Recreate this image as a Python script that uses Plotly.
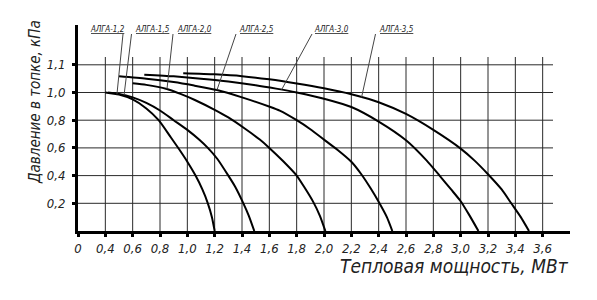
import plotly.graph_objects as go
import numpy as np

x_ticks = [0, 0.4, 0.6, 0.8, 1.0, 1.2, 1.4, 1.6, 1.8, 2.0, 2.2, 2.4, 2.6, 2.8, 3.0, 3.2, 3.4, 3.6]
x_tick_labels = ["0", "0,4", "0,6", "0,8", "1,0", "1,2", "1,4", "1,6", "1,8", "2,0",
                 "2,2", "2,4", "2,6", "2,8", "3,0", "3,2", "3,4", "3,6"]
y_ticks = [0.2, 0.4, 0.6, 0.8, 1.0, 1.1]
y_tick_labels = ["0,2", "0,4", "0,6", "0,8", "1,0", "1,1"]

names = ["АЛГА-1,2", "АЛГА-1,5", "АЛГА-2,0", "АЛГА-2,5", "АЛГА-3,0", "АЛГА-3,5"]

alga12_x = [0.4, 0.5, 0.6, 0.7, 0.79, 0.88, 0.94, 1.0, 1.06, 1.11, 1.15, 1.18, 1.2]
alga12_y = [1.0, 0.985, 0.95, 0.885, 0.80, 0.675, 0.59, 0.50, 0.40, 0.30, 0.20, 0.10, 0.0]

alga15_x = [0.42, 0.5, 0.6, 0.7, 0.8, 0.9, 1.0, 1.09, 1.15, 1.22, 1.30, 1.35, 1.41, 1.45, 1.49]
alga15_y = [1.0, 0.99, 0.965, 0.925, 0.87, 0.80, 0.73, 0.657, 0.60, 0.52, 0.40, 0.32, 0.20, 0.11, 0.0]

alga20_x = [0.6, 0.7, 0.85, 0.95, 1.055, 1.2, 1.3, 1.42, 1.53, 1.6, 1.7, 1.8, 1.86, 1.92, 1.97, 2.01]
alga20_y = [1.033, 1.0275, 1.0125, 0.99, 0.946, 0.875, 0.82, 0.74, 0.66, 0.60, 0.505, 0.40, 0.31, 0.212, 0.11, 0.0]

alga25_x = [0.5, 0.7, 0.9, 1.05, 1.217, 1.4, 1.603, 1.676, 1.8, 1.9, 2.0, 2.1, 2.2, 2.273, 2.34, 2.406, 2.46, 2.5]
alga25_y = [1.0585, 1.05, 1.0375, 1.025, 1.009, 0.965, 0.897, 0.869, 0.80, 0.735, 0.66, 0.585, 0.50, 0.41, 0.31, 0.20, 0.10, 0.0]

alga30_x = [0.685, 0.9, 1.1, 1.3, 1.5, 1.65, 1.8, 2.0, 2.2, 2.4, 2.6, 2.75, 2.85, 2.93, 3.0, 3.06, 3.13]
alga30_y = [1.0645, 1.0585, 1.05, 1.04, 1.0265, 1.014, 1.0, 0.955, 0.895, 0.79, 0.655, 0.51, 0.395, 0.30, 0.215, 0.12, 0.0]

alga35_x = [0.97, 1.2, 1.4, 1.6, 1.8, 2.0, 2.2, 2.4, 2.6, 2.8, 3.0, 3.1, 3.2, 3.3, 3.37, 3.44, 3.5]
alga35_y = [1.0695, 1.0655, 1.059, 1.0475, 1.0325, 1.015, 0.987, 0.93, 0.845, 0.73, 0.595, 0.51, 0.41, 0.30, 0.20, 0.10, 0.0]

series_x = [alga12_x, alga15_x, alga20_x, alga25_x, alga30_x, alga35_x]
series_y = [alga12_y, alga15_y, alga20_y, alga25_y, alga30_y, alga35_y]

# where the leader of each label touches its curve (heat output, MW)
leader_at = [0.485, 0.537, 0.851, 1.217, 1.69, 2.275]


# ---------------- broken-axis mapping of the drawing ----------------
def xd(v):
    v = np.asarray(v, dtype=float)
    return np.where(v == 0, 0.0, v - 0.2)


def yd(v):
    v = np.asarray(v, dtype=float)
    return np.where(v <= 1.0, v, 1.0 + 2.0 * (v - 1.0))


W, H = 597, 300
L, R, T, B = 78, 27, 25, 69
XR = [0, 3.6]
YR = [0, (H - T - B) / 138.5]


def px2x(px):
    return XR[0] + (px - L) / (W - L - R) * (XR[1] - XR[0])


def py2y(py):
    return YR[0] + (H - B - py) / (H - T - B) * (YR[1] - YR[0])


def ppx(px):
    return (px - L) / (W - L - R)


def ppy(py):
    return (H - B - py) / (H - T - B)


FONT = "DejaVu Sans Condensed, Liberation Sans Narrow, DejaVu Sans, sans-serif"
INK = "#222"

fig = go.Figure()

# grid
shapes = []
grid_top = py2y(57)
grid_right = px2x(553)
for xv in x_ticks[1:]:
    xx = float(xd(xv))
    shapes.append(dict(type="line", xref="x", yref="y", x0=xx, x1=xx, y0=0, y1=grid_top,
                       line=dict(color="#2a2a2a", width=1), layer="below"))
for yv in y_ticks:
    yy = float(yd(yv))
    shapes.append(dict(type="line", xref="x", yref="y", x0=0, x1=grid_right, y0=yy, y1=yy,
                       line=dict(color="#2a2a2a", width=1), layer="below"))

# curves
for nm, sx, sy in zip(names, series_x, series_y):
    fig.add_trace(go.Scatter(x=xd(sx), y=yd(sy), mode="lines", name=nm,
                             line=dict(color="black", width=2, shape="spline", smoothing=0.6),
                             showlegend=False, hoverinfo="skip"))

# labels with leaders
label_left_px = [88, 133, 175, 237, 312, 377]
leader_start_px = [123, 131.5, 173, 236, 312, 375.5]
annotations = []
for nm, lx, sx_px, sx, sy, la in zip(names, label_left_px, leader_start_px,
                                     series_x, series_y, leader_at):
    annotations.append(dict(x=ppx(lx), y=ppy(29.5), xref="paper", yref="paper", text=nm,
                            showarrow=False, xanchor="left", yanchor="middle",
                            font=dict(family=FONT, size=8, color=INK, style="italic",
                                      lineposition="under")))
    ye = float(np.interp(la, sx, yd(sy)))
    shapes.append(dict(type="line", xref="x", yref="y",
                       x0=px2x(sx_px), y0=py2y(34), x1=float(xd(la)), y1=ye,
                       line=dict(color="#444", width=1)))

# axis titles
annotations.append(dict(x=ppx(571), y=ppy(266), xref="paper", yref="paper",
                        text="Тепловая мощность, МВт", showarrow=False,
                        xanchor="right", yanchor="middle",
                        font=dict(family=FONT, size=19, color=INK, style="italic")))
annotations.append(dict(x=ppx(35), y=ppy(102), xref="paper", yref="paper",
                        text="Давление в топке, кПа", showarrow=False, textangle=-90,
                        xanchor="center", yanchor="middle",
                        font=dict(family=FONT, size=15, color=INK, style="italic")))

fig.update_layout(
    width=W, height=H,
    margin=dict(l=L, r=R, t=T, b=B, pad=0),
    paper_bgcolor="white", plot_bgcolor="white",
    shapes=shapes, annotations=annotations,
    xaxis=dict(range=XR, showgrid=False, zeroline=False, showline=True,
               linecolor="black", linewidth=3,
               tickmode="array", tickvals=[float(xd(v)) for v in x_ticks],
               ticktext=x_tick_labels, ticks="outside", ticklen=3, tickwidth=3,
               tickcolor="black",
               tickfont=dict(family=FONT, size=13, color=INK, style="italic")),
    yaxis=dict(range=YR, showgrid=False, zeroline=False, showline=True,
               linecolor="black", linewidth=3,
               tickmode="array", tickvals=[float(yd(v)) for v in y_ticks],
               ticktext=y_tick_labels, ticks="outside", ticklen=3, tickwidth=3,
               tickcolor="black", ticklabelstandoff=4,
               tickfont=dict(family=FONT, size=13, color=INK, style="italic")),
)

fig.write_html("out.html")
